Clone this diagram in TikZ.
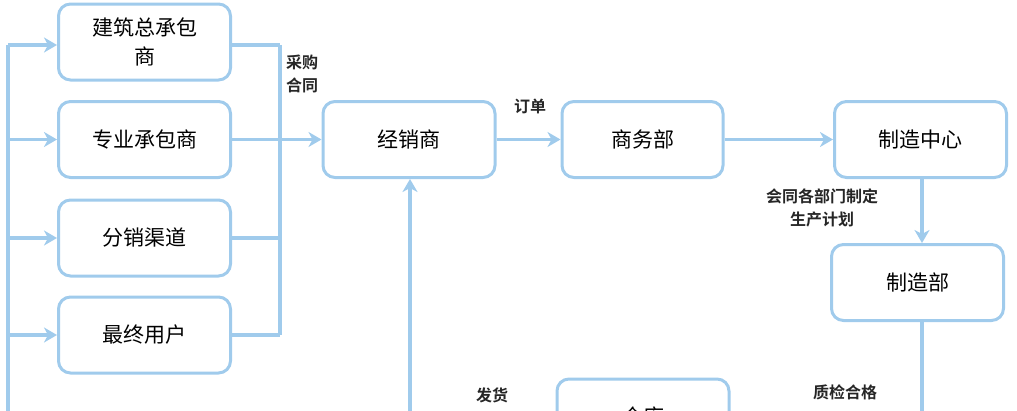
\documentclass[tikz,border=0pt]{standalone}
\usepackage{fontspec}
\setmainfont{Noto Sans CJK SC}[BoldFont={Noto Sans CJK SC Bold}]
\usetikzlibrary{arrows.meta,positioning}
\definecolor{lineblue}{RGB}{160,203,236}

\begin{document}
\begin{tikzpicture}
		[   x=1pt,y=-1pt,
		    bnode/.style={draw=lineblue,line width=3pt,rounded corners=12pt,fill=white,minimum width=172pt,minimum height=76pt,align=center,font=\fontsize{21}{29}\selectfont},
		    lbl/.style={font=\bfseries\fontsize{16}{23}\selectfont,align=center,text=black!85},
		]
		\tikzset{normal arrow/.style={draw=lineblue,line width=3.2pt,-{Stealth[length=13pt,width=15pt,inset=4pt]}}}
		\tikzset{normal line/.style={draw=lineblue,line width=3.2pt}}
		\useasboundingbox (0,0) rectangle (1017,410);
		
		% customers
		\node[bnode] (c-1) at (144.5,42) {建筑总承包\\商};
		\node[bnode] (c-2) at (144.5,139.5) {专业承包商};
		\node[bnode] (c-3) at (144.5,238) {分销渠道};
		\node[bnode] (c-4) at (144.5,335) {最终用户};
		
		\node[bnode] (jx) at (409,139.5) {经销商};
		\node[bnode,minimum width=161pt] (sw) at (642.5,139.5) {商务部};
		\node[bnode] (zz) at (920.5,139.5) {制造中心};
		\node[bnode] (zzb) at (917.5,282.5) {制造部};
		\node[bnode] (ck) at (643,417) {仓库};
		
		% free ends
		\coordinate (l-top) at (8,45);
		\coordinate (l-bot) at (8,420);
		\coordinate (r-top) at (280,45);
		\coordinate (r-bot) at (280,335);
		\coordinate (zzb-bot) at (922,420);
		\coordinate (jx-bot) at (410,420);
		
		\path[normal line] (l-top) -- (l-bot);
		\path[normal line] (r-top) -- (r-bot);
		\foreach \x in {2,...,4}
		{
			\path[normal arrow] (l-top |- c-\x) -- (c-\x.west);
			\path[normal line] (c-\x.east) -- (r-top |- c-\x);
		}
		\path[normal arrow] (l-top) -- (l-top -| c-1.west);
		\path[normal line] (r-top -| c-1.east) -- (r-top);
		\path[normal arrow] (r-top |- jx) -- (jx.west);
		
		\path[normal arrow] (jx.east) -- (sw.west);
		\path[normal arrow] (sw.east) -- (zz.west);
		\path[normal arrow] (zz.south -| zzb-bot) -- (zzb.north -| zzb-bot);
		\path[normal line] (zzb.south -| zzb-bot) -- (zzb-bot);
		\path[normal arrow] (jx-bot) -- (jx.south -| jx-bot);
		
		% labels
		\node[lbl] (t-1) at (302,74) {采购\\合同};
		\node[lbl] (t-2) at (530,106) {订单};
		\node[lbl] (t-3) at (822,208) {会同各部门制定\\生产计划};
		\node[lbl] (t-4) at (845,392) {质检合格};
		\node[lbl] (t-5) at (492,395) {发货};
		
		\end{tikzpicture}
\end{document}
